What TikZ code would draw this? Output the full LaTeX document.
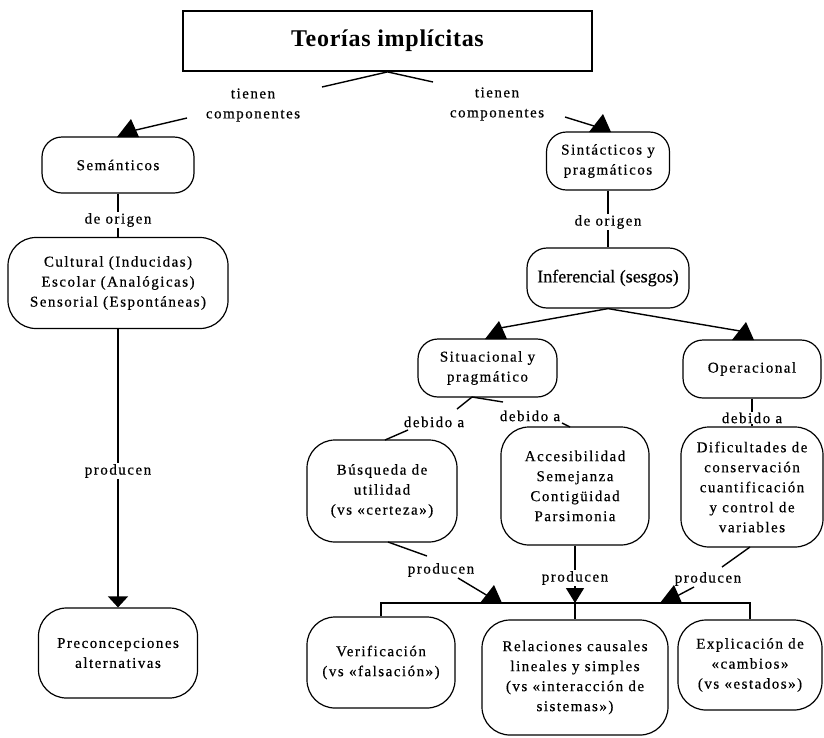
\documentclass[tikz,border=0pt]{standalone}
\usepackage{fontspec}
\setmainfont{Liberation Serif}
\newfontfamily\lsf{Liberation Serif}[LetterSpace=10,FakeBold=0.5]
\newfontfamily\inff{Liberation Serif}[FakeBold=0.5]
\newfontfamily\ttlf{Liberation Serif}[LetterSpace=3]
\usetikzlibrary{arrows.meta}
\begin{document}
\begin{tikzpicture}[x=1pt,y=-1pt,
  txt/.style={font=\lsf\fontsize{15}{20}\selectfont, align=center},
  rbox/.style={txt, draw, line width=1.2pt, rounded corners=20pt, inner sep=0pt},
  bigbox/.style={rbox, rounded corners=28pt},
  lab/.style={txt, inner sep=1pt, fill=white},
  conn/.style={line width=1.4pt},
  uptri/.pic={\fill (-11,0) -- (11,0) -- (3,-18) -- cycle;}
]
\useasboundingbox (0,0) rectangle (824,737);
\fill[white] (0,0) rectangle (824,737);

% nodes
\node[draw, line width=1.8pt, minimum width=409pt, minimum height=60pt,
      font=\ttlf\bfseries\fontsize{24}{28}\selectfont] (title) at (387.5,41) {Teorías implícitas};

\node[lab] (tc1) at (253,105) {tienen\\componentes};
\node[lab] (tc2) at (497,104) {tienen\\componentes};

\node[rbox, minimum width=152pt, minimum height=56pt] (sem) at (118,165) {Semánticos};
\node[rbox, minimum width=123pt, minimum height=58pt] (sint) at (608,161) {Sintácticos y\\pragmáticos};

\node[lab] (do1) at (118,220) {de origen};
\node[lab] (do2) at (608,222) {de origen};

\node[bigbox, minimum width=220pt, minimum height=91pt] (cult) at (118,283)
  {Cultural (Inducidas)\\Escolar (Analógicas)\\Sensorial (Espontáneas)};
\node[rbox, minimum width=162pt, minimum height=60pt, font=\inff\fontsize{18}{22}\selectfont] (inf) at (608,278) {Inferencial (sesgos)};

\node[rbox, minimum width=139pt, minimum height=58pt] (sit) at (487.5,368) {Situacional y\\pragmático};
\node[rbox, minimum width=138pt, minimum height=58pt] (oper) at (752,369) {Operacional};

\node[lab] (db1) at (434,422) {debido a};
\node[lab] (db2) at (530,416) {debido a};
\node[lab] (db3) at (752,418) {debido a};

\node[bigbox, minimum width=150pt, minimum height=102pt] (busq) at (382,491)
  {Búsqueda de\\utilidad\\(vs «certeza»)};
\node[bigbox, minimum width=148pt, minimum height=118pt] (acc) at (575,486)
  {Accesibilidad\\Semejanza\\Contigüidad\\Parsimonia};
\node[bigbox, minimum width=142pt, minimum height=120pt] (dif) at (752,487)
  {Dificultades de\\conservación\\cuantificación\\y control de\\variables};

\node[lab] (prod1) at (118,471) {producen};
\node[lab] (pr2) at (441,570) {producen};
\node[lab] (pr3) at (575,578) {producen};
\node[lab] (pr4) at (708,579) {producen};

\node[bigbox, minimum width=159pt, minimum height=90pt] (precon) at (118,653)
  {Preconcepciones\\alternativas};
\node[bigbox, minimum width=148pt, minimum height=91pt] (verif) at (381,662.5)
  {Verificación\\(vs «falsación»)};
\node[bigbox, minimum width=186pt, minimum height=115pt] (rel) at (575,677.5)
  {Relaciones causales\\lineales y simples\\(vs «interacción de\\sistemas»)};
\node[bigbox, minimum width=144pt, minimum height=90pt] (expl) at (750,665)
  {Explicación de\\«cambios»\\(vs «estados»)};

% coordinates for free ends
\coordinate (vL) at (322,87);
\coordinate (vR) at (433,82);
\coordinate (a1s) at (187,118); \coordinate (a1e) at (136,130);
\coordinate (a2s) at (565,117); \coordinate (a2e) at (594,126);
\coordinate (a3e) at (500,328);
\coordinate (a4e) at (740,331);
\coordinate (sitS) at (472,397);
\coordinate (s1) at (457,409); \coordinate (s2) at (503,402);
\coordinate (b1s) at (408,430); \coordinate (b1e) at (385,440);
\coordinate (b2s) at (562,423); \coordinate (b2e) at (570,427);
\coordinate (p2s) at (388,542); \coordinate (p2e) at (427,556);
\coordinate (p2f) at (458,578); \coordinate (p2g) at (488,596);
\coordinate (p4s) at (750,547); \coordinate (p4e) at (722,567);
\coordinate (p4f) at (694,587); \coordinate (p4g) at (677,596);
\coordinate (barM) at (575,603);

% connectors
\draw[conn] (title.south) -- (vL);
\draw[conn] (title.south) -- (vR);
\draw[conn] (a1s) -- (a1e);
\draw[conn] (a2s) -- (a2e);
\pic at (128,137) {uptri};
\pic at (600,132) {uptri};

\draw[conn] (sem.south) -- (do1.north);
\draw[conn] (do1.south) -- (cult.north);
\draw[conn] (sint.south) -- (do2.north);
\draw[conn] (do2.south) -- (inf.north);

\draw[conn] (cult.south) -- (prod1.north);
\draw[conn, -{Triangle[width=20pt,length=11pt]}] (prod1.south) -- (precon.north);

\draw[conn] (inf.south) -- (a3e);
\draw[conn] (inf.south) -- (a4e);
\pic at (496,339) {uptri};
\pic at (743,340) {uptri};

\draw[conn] (sitS) -- (s1);
\draw[conn] (sitS) -- (s2);
\draw[conn] (b1s) -- (b1e);
\draw[conn] (b2s) -- (b2e);
\draw[conn] (oper.south) -- (db3.north);
\draw[conn] (db3.south) -- (dif.north);

\draw[conn] (p2s) -- (p2e);
\draw[conn] (p2f) -- (p2g);
\pic at (491,603) {uptri};
\draw[conn] (acc.south) -- (pr3.north);
\draw[conn, -{Triangle[width=18pt,length=15pt]}] (pr3.south) -- (barM);
\draw[conn] (p4s) -- (p4e);
\draw[conn] (p4f) -- (p4g);
\pic at (671,603) {uptri};

\draw[conn] (verif.north) |- (barM) -| (expl.north);
\draw[conn] (barM) -- (rel.north);
\end{tikzpicture}
\end{document}
